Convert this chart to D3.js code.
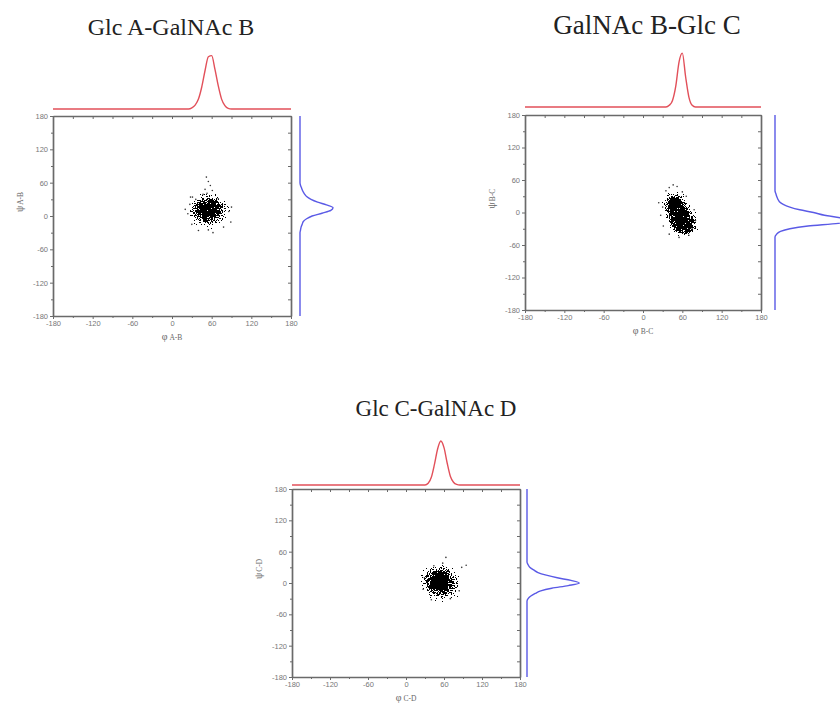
<html>
<head>
<script src="https://d3js.org/d3.v7.min.js"></script>
<style>
  body { margin: 0; background: #fff; }
  svg { display: block; }
  .tick text { font-family: "Liberation Sans", Arial, sans-serif; font-size: 7.5px; fill: #777; }
  .frame path.domain { stroke: #6a6a6a; stroke-width: 1.7px; }
  .frame .tick line { stroke: #6a6a6a; }
</style>
</head>
<body>
<svg id="chart" width="840" height="706"></svg>
<script>
// ---- data ----
var titles = ["Glc A-GalNAc B", "GalNAc B-Glc C", "Glc C-GalNAc D"];
var pairs = ["A-B", "B-C", "C-D"];
var angleTicks = [-180, -120, -60, 0, 60, 120, 180];
var minorTicks = [-150, -90, -30, 30, 90, 150];

// angle samples (deg) for the marginal distributions
var densGrid = [-180, -60, -50, -45, -40, -35, -30, -25, -20, -15, -10, -5, 0, 5, 10, 15, 20,
                25, 30, 35, 40, 45, 50, 55, 60, 65, 70, 75, 80, 85, 90, 100, 180];

var phiDensAB = [0,0,0,0,0,0,0,0,0,0,0,0,0,0,0,0,0,0, 0.02,0.07,0.18,0.4,0.7,0.95,0.97,0.72,0.42,0.18,0.06,0.01,0,0,0];
var phiDensBC = [0,0,0,0,0,0,0,0,0,0,0,0,0,0,0,0,0,0,0,0, 0.03,0.12,0.38,0.82,0.98,0.55,0.18,0.03,0,0,0,0,0];
var phiDensCD = [0,0,0,0,0,0,0,0,0,0,0,0,0,0,0,0,0,0,0, 0.03,0.14,0.38,0.66,0.8,0.68,0.4,0.16,0.05,0.01,0,0,0,0];

var psiDensAB = [0,0,0,0,0,0,0, 0.01,0.02,0.04,0.06,0.12,0.22,0.4,0.56,0.6,0.48,0.32,0.2,0.12,0.08,0.05,0.03,0.01, 0,0,0,0,0,0,0,0,0];
var psiDensBC = [0,0,0,0, 0.03,0.1,0.27,0.6,1.15,1.35,1.2,0.9,0.7,0.45,0.27,0.15,0.08,0.05,0.03,0.015, 0,0,0,0,0,0,0,0,0,0,0,0,0];
var psiDensCD = [0,0,0,0,0,0, 0.02,0.07,0.15,0.25,0.45,0.75,0.95,0.8,0.55,0.35,0.2,0.12,0.05,0.02, 0,0,0,0,0,0,0,0,0,0,0,0,0];

// dense cores of the scatter clouds: [phi, psi, spread phi, spread psi]
var coreAB = [[55, 11, 38, 38]];
var coreBC = [[48, 15, 22, 32], [57, -8, 28, 36], [64, -24, 24, 24]];
var coreCD = [[54, 2, 40, 44]];

// sparse points outside the cores: [phi, psi]
var strayAB = [[52,70],[55,62],[58,55],[50,48],[61,46],[53,41],[47,39],[28,34],[31,34],[20,12],[24,4],
               [89,-11],[86,8],[30,-15],[78,-20],[40,-26],[55,-25],[70,31],[36,30],[62,-30],[90,16],[27,21]];
var strayBC = [[35,40],[40,46],[46,51],[52,48],[30,10],[27,-5],[31,-25],[40,-40],[75,-30],[80,-15],
               [78,5],[66,30],[70,-42],[55,-46],[24,18],[60,38]];
var strayCD = [[63,49],[95,34],[88,30],[29,10],[27,-12],[84,-15],[40,-32],[70,-30],[58,38],[44,33]];

// ---- layout ----
var panels = [
  {x0: 53,  x1: 291, y0: 116, y1: 316, redY: 109, blueX: 300, tx: 171, ty: 35,  ts: 24,
   phiD: phiDensAB, psiD: psiDensAB, core: coreAB, stray: strayAB},
  {x0: 525, x1: 761, y0: 115, y1: 310, redY: 107, blueX: 775, tx: 647, ty: 34,  ts: 27,
   phiD: phiDensBC, psiD: psiDensBC, core: coreBC, stray: strayBC},
  {x0: 292, x1: 520, y0: 489, y1: 677, redY: 485, blueX: 527, tx: 436, ty: 416, ts: 23,
   phiD: phiDensCD, psiD: psiDensCD, core: coreCD, stray: strayCD}
];
var densPx = 55;

var svg = d3.select("#chart");
var defs = svg.append("defs");

var grad = defs.append("radialGradient").attr("id", "cloud");
grad.append("stop").attr("offset", "0%").attr("stop-color", "#000").attr("stop-opacity", 1);
grad.append("stop").attr("offset", "25%").attr("stop-color", "#000").attr("stop-opacity", 1);
grad.append("stop").attr("offset", "100%").attr("stop-color", "#000").attr("stop-opacity", 0);

// speckle texture so the cores look like a cloud of dots
var f = defs.append("filter").attr("id", "speckle")
  .attr("x", "-10%").attr("y", "-10%").attr("width", "120%").attr("height", "120%")
  .attr("color-interpolation-filters", "sRGB");
f.append("feTurbulence").attr("type", "fractalNoise").attr("baseFrequency", 0.85)
  .attr("numOctaves", 2).attr("seed", 4).attr("result", "n");
f.append("feColorMatrix").attr("in", "n").attr("type", "matrix")
  .attr("values", "0 0 0 0 0  0 0 0 0 0  0 0 0 0 0  1 0 0 0 0").attr("result", "na");
f.append("feComposite").attr("in", "SourceAlpha").attr("in2", "na").attr("operator", "arithmetic")
  .attr("k1", 0).attr("k2", 1.25).attr("k3", 2).attr("k4", -1.25).attr("result", "m");
var ct = f.append("feComponentTransfer").attr("in", "m").attr("result", "t");
ct.append("feFuncA").attr("type", "discrete").attr("tableValues", "0 1");
// keep speckles inside the cores only
var mk = f.append("feComponentTransfer").attr("in", "SourceAlpha").attr("result", "mask");
mk.append("feFuncA").attr("type", "discrete").attr("tableValues", "0 1 1 1 1 1 1 1 1 1 1 1 1 1 1 1 1 1 1 1");
f.append("feComposite").attr("in", "t").attr("in2", "mask").attr("operator", "in");

panels.forEach(function(p, i){
  var x = d3.scaleLinear().domain([-180, 180]).range([p.x0, p.x1]);
  var y = d3.scaleLinear().domain([-180, 180]).range([p.y1, p.y0]);
  var g = svg.append("g");

  // title
  g.append("text")
    .attr("x", p.tx).attr("y", p.ty)
    .attr("text-anchor", "middle")
    .style("font-family", "'Liberation Serif', 'Times New Roman', serif")
    .style("font-size", p.ts + "px")
    .style("fill", "#222")
    .text(titles[i]);

  // scatter cloud
  var cloud = g.append("g").attr("filter", "url(#speckle)");
  cloud.selectAll("ellipse")
    .data(p.core)
    .enter()
    .append("ellipse")
      .attr("cx", function(d){ return x(d[0]); })
      .attr("cy", function(d){ return y(d[1]); })
      .attr("rx", function(d){ return x(d[0] + d[2]) - x(d[0]); })
      .attr("ry", function(d){ return y(d[1] - d[3]) - y(d[1]); })
      .attr("fill", "url(#cloud)");

  g.selectAll("circle.stray")
    .data(p.stray)
    .enter()
    .append("circle")
      .attr("class", "stray")
      .attr("cx", function(d){ return x(d[0]); })
      .attr("cy", function(d){ return y(d[1]); })
      .attr("r", 0.8)
      .attr("fill", "#333");

  // frame axes
  var fmt = function(d){ return String(d); };
  var ax = g.append("g").attr("class", "frame");
  ax.append("g").attr("transform", "translate(0," + p.y1 + ")")
    .call(d3.axisBottom(x).tickValues(angleTicks).tickSize(3).tickSizeOuter(0).tickPadding(2).tickFormat(fmt));
  ax.append("g").attr("transform", "translate(" + p.x0 + ",0)")
    .call(d3.axisLeft(y).tickValues(angleTicks).tickSize(3).tickSizeOuter(0).tickPadding(2).tickFormat(fmt));
  ax.append("g").attr("transform", "translate(0," + p.y0 + ")")
    .call(d3.axisTop(x).tickValues(angleTicks.concat(minorTicks)).tickSize(-3).tickSizeOuter(0).tickFormat(""));
  ax.append("g").attr("transform", "translate(" + p.x1 + ",0)")
    .call(d3.axisRight(y).tickValues(angleTicks.concat(minorTicks)).tickSize(-3).tickSizeOuter(0).tickFormat(""));
  ax.append("g").attr("transform", "translate(0," + p.y1 + ")")
    .call(d3.axisBottom(x).tickValues(minorTicks).tickSize(2).tickFormat(""))
    .select(".domain").remove();
  ax.append("g").attr("transform", "translate(" + p.x0 + ",0)")
    .call(d3.axisLeft(y).tickValues(minorTicks).tickSize(2).tickFormat(""))
    .select(".domain").remove();

  // axis titles
  var xl = g.append("text")
    .attr("x", (p.x0 + p.x1) / 2).attr("y", p.y1 + 24)
    .attr("text-anchor", "middle")
    .style("font-family", "'Liberation Serif', serif")
    .style("fill", "#666");
  xl.append("tspan").style("font-size", "10px").text("\u03c6");
  xl.append("tspan").style("font-size", "7.5px").attr("dx", 2).text(pairs[i]);

  var yl = g.append("text")
    .attr("transform", "translate(" + (p.x0 - 30) + "," + ((p.y0 + p.y1) / 2 - 14) + ") rotate(-90)")
    .attr("text-anchor", "middle")
    .style("font-family", "'Liberation Serif', serif")
    .style("fill", "#666");
  yl.append("tspan").style("font-size", "10px").text("\u03c8");
  yl.append("tspan").style("font-size", "7.5px").attr("dx", 1).text(pairs[i]);

  // marginal distributions
  var red = d3.line()
    .x(function(d, k){ return x(densGrid[k]); })
    .y(function(d){ return p.redY - d * densPx; })
    .curve(d3.curveMonotoneX);
  g.append("path")
    .attr("d", red(p.phiD))
    .attr("fill", "none")
    .attr("stroke", "#e2505a")
    .attr("stroke-width", 1.4);

  var blue = d3.line()
    .x(function(d){ return p.blueX + d * densPx; })
    .y(function(d, k){ return y(densGrid[k]); })
    .curve(d3.curveMonotoneY);
  g.append("path")
    .attr("d", blue(p.psiD))
    .attr("fill", "none")
    .attr("stroke", "#5a5ae6")
    .attr("stroke-width", 1.4);
});
</script>
</body>
</html>
